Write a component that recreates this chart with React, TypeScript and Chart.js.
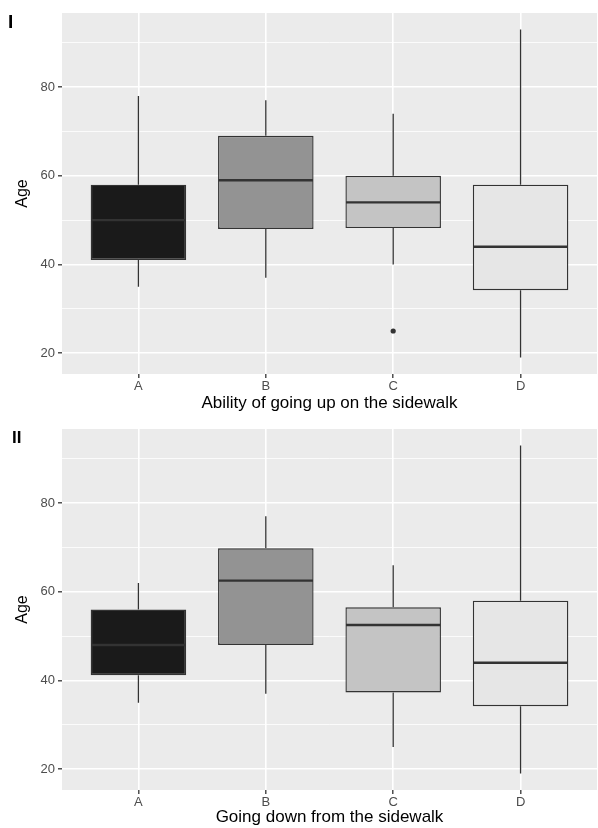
import React, { useEffect, useRef } from "react";
import { Chart, registerables } from "chart.js";
Chart.register(...registerables);

const CATEGORIES = ["A", "B", "C", "D"];
const FILLS = ["#1A1A1A", "#939393", "#C4C4C4", "#E6E6E6"];
const Y_TICKS = [20, 30, 40, 50, 60, 70, 80, 90];
const Y_LABELED = [20, 40, 60, 80];
const Y_MIN = 15.3;
const Y_MAX = 96.7;

// Panel I: Ability of going up on the sidewalk
const UP_MIN = [35, 37, 40, 19];
const UP_Q1 = [41, 48, 48.2, 34.2];
const UP_MED = [50, 59, 54, 44];
const UP_Q3 = [58, 69, 60, 58];
const UP_MAX = [78, 77, 74, 93];
const UP_OUTLIERS = [{ x: 2, y: 25 }];

// Panel II: Going down from the sidewalk
const DOWN_MIN = [35, 37, 25, 19];
const DOWN_Q1 = [41.2, 48, 37.3, 34.2];
const DOWN_MED = [48, 62.5, 52.5, 44];
const DOWN_Q3 = [56, 69.8, 56.5, 58];
const DOWN_MAX = [62, 77, 66, 93];
const DOWN_OUTLIERS: { x: number; y: number }[] = [];

const FONT = "'Liberation Sans', Arial, sans-serif";

type PanelProps = {
  tag: string;
  tagFont: number;
  tagX: number;
  tagBaseline: number;
  xTitle: string;
  min: number[];
  q1: number[];
  med: number[];
  q3: number[];
  max: number[];
  outliers: { x: number; y: number }[];
  padTop: number;
  xHeight: number;
  height: number;
};

function BoxPanel(p: PanelProps) {
  const ref = useRef<HTMLCanvasElement | null>(null);
  useEffect(() => {
    if (!ref.current) return;
    const plugin = {
      id: "boxplotExtras",
      beforeDraw(chart: any) {
        const { ctx, chartArea } = chart;
        ctx.save();
        ctx.fillStyle = "#EBEBEB";
        ctx.fillRect(chartArea.left, chartArea.top, chartArea.right - chartArea.left, chartArea.bottom - chartArea.top);
        ctx.restore();
      },
      beforeDatasetsDraw(chart: any) {
        const { ctx } = chart;
        const xs = chart.scales.x;
        const ys = chart.scales.y;
        ctx.save();
        ctx.strokeStyle = "#333333";
        ctx.lineWidth = 1.3;
        for (let i = 0; i < CATEGORIES.length; i++) {
          const x = xs.getPixelForValue(i);
          ctx.beginPath();
          ctx.moveTo(x, ys.getPixelForValue(p.max[i]));
          ctx.lineTo(x, ys.getPixelForValue(p.q3[i]));
          ctx.moveTo(x, ys.getPixelForValue(p.q1[i]));
          ctx.lineTo(x, ys.getPixelForValue(p.min[i]));
          ctx.stroke();
        }
        ctx.restore();
      },
      afterDatasetsDraw(chart: any) {
        const { ctx } = chart;
        const ys = chart.scales.y;
        const meta = chart.getDatasetMeta(0);
        ctx.save();
        ctx.strokeStyle = "#333333";
        ctx.lineWidth = 2.4;
        meta.data.forEach((el: any, i: number) => {
          const y = ys.getPixelForValue(p.med[i]);
          ctx.beginPath();
          ctx.moveTo(el.x - el.width / 2 + 0.6, y);
          ctx.lineTo(el.x + el.width / 2 - 0.6, y);
          ctx.stroke();
        });
        ctx.fillStyle = "#000000";
        ctx.font = `bold ${p.tagFont}px ${FONT}`;
        ctx.textBaseline = "alphabetic";
        ctx.textAlign = "left";
        ctx.fillText(p.tag, p.tagX, p.tagBaseline);
        ctx.restore();
      },
    };

    const chart = new Chart(ref.current, {
      type: "bar",
      data: {
        datasets: [
          {
            type: "bar",
            data: CATEGORIES.map((_, i) => ({ x: i, y: [p.q1[i], p.q3[i]] })) as any,
            backgroundColor: FILLS,
            borderColor: "#333333",
            borderWidth: 1.4,
            borderSkipped: false,
            barPercentage: 0.75,
            categoryPercentage: 1,
          },
          {
            type: "line",
            data: p.outliers as any,
            showLine: false,
            pointRadius: 2.6,
            pointBackgroundColor: "#333333",
            pointBorderWidth: 0,
            borderColor: "#333333",
          },
        ] as any,
      },
      options: {
        animation: false,
        responsive: false,
        maintainAspectRatio: false,
        layout: { autoPadding: false, padding: { top: p.padTop, right: 1, left: 0, bottom: 0 } },
        plugins: { legend: { display: false }, tooltip: { enabled: false } },
        scales: {
          x: {
            type: "linear",
            min: -0.6,
            max: 3.6,
            offset: false,
            afterBuildTicks: (scale: any) => {
              scale.ticks = CATEGORIES.map((_, i) => ({ value: i }));
            },
            afterFit: (scale: any) => {
              scale.height = p.xHeight;
            },
            border: { display: false },
            grid: {
              offset: false,
              color: "#FFFFFF",
              lineWidth: 1.6,
              tickLength: 4,
              tickColor: "#333333",
              tickWidth: 1.3,
            },
            ticks: {
              color: "#4D4D4D",
              font: { family: FONT, size: 13 },
              padding: 1,
              maxRotation: 0,
              callback: (v: any) => CATEGORIES[v as number] ?? "",
            },
            title: {
              display: true,
              text: p.xTitle,
              color: "#000000",
              font: { family: FONT, size: 17 },
              padding: { top: 0, bottom: 0 },
            },
          },
          y: {
            type: "linear",
            min: Y_MIN,
            max: Y_MAX,
            afterBuildTicks: (scale: any) => {
              scale.ticks = Y_TICKS.map((v) => ({ value: v }));
            },
            afterFit: (scale: any) => {
              scale.width = 62;
            },
            border: { display: false },
            grid: {
              color: "#FFFFFF",
              lineWidth: (c: any) => (Y_LABELED.includes(c.tick?.value) ? 1.6 : 0.8),
              tickLength: 4,
              tickColor: (c: any) => (Y_LABELED.includes(c.tick?.value) ? "#333333" : "rgba(0,0,0,0)"),
              tickWidth: 1.3,
            },
            ticks: {
              color: "#4D4D4D",
              font: { family: FONT, size: 13 },
              padding: 3,
              callback: (v: any) => (Y_LABELED.includes(v as number) ? String(v) : ""),
            },
            title: {
              display: true,
              text: "Age",
              color: "#000000",
              font: { family: FONT, size: 16 },
              padding: { top: 13, bottom: 0 },
            },
          },
        },
      } as any,
      plugins: [plugin],
    });
    return () => chart.destroy();
  }, []);
  return (
    <div style={{ width: 598, height: p.height, position: "relative" }}>
      <canvas ref={ref} width={598} height={p.height} style={{ width: 598, height: p.height, display: "block" }} />
    </div>
  );
}

export default function App() {
  return (
    <div style={{ position: "absolute", left: 0, top: 0, width: 598, height: 828, background: "#FFFFFF", overflow: "hidden" }}>
      <BoxPanel
        tag="I"
        tagFont={19}
        tagX={8}
        tagBaseline={28}
        xTitle="Ability of going up on the sidewalk"
        min={UP_MIN}
        q1={UP_Q1}
        med={UP_MED}
        q3={UP_Q3}
        max={UP_MAX}
        outliers={UP_OUTLIERS}
        padTop={13}
        xHeight={40}
        height={414}
      />
      <BoxPanel
        tag="II"
        tagFont={17}
        tagX={12}
        tagBaseline={29}
        xTitle="Going down from the sidewalk"
        min={DOWN_MIN}
        q1={DOWN_Q1}
        med={DOWN_MED}
        q3={DOWN_Q3}
        max={DOWN_MAX}
        outliers={DOWN_OUTLIERS}
        padTop={15}
        xHeight={38}
        height={414}
      />
    </div>
  );
}
